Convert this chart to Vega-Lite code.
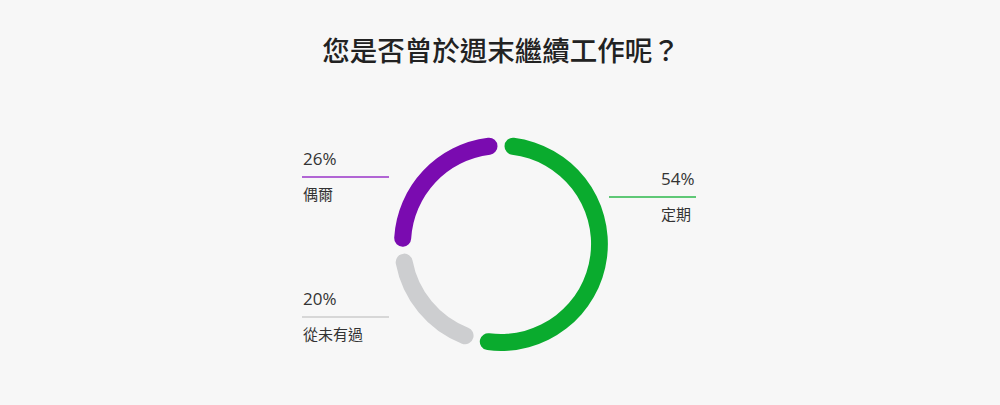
{
  "$schema": "https://vega.github.io/schema/vega-lite/v6.json",
  "width": 998,
  "height": 322,
  "autosize": "none",
  "padding": {"top": 83, "left": 2, "right": 0, "bottom": 0},
  "background": "#f7f7f7",
  "title": {
    "text": "您是否曾於週末繼續工作呢？",
    "font": "Noto Sans CJK TC",
    "fontSize": 27.5,
    "fontWeight": 500,
    "color": "#222222",
    "offset": 17
  },
  "data": {
    "values": [
      {"類別": "定期", "比例": 0.54, "序": 1},
      {"類別": "從未有過", "比例": 0.20, "序": 2},
      {"類別": "偶爾", "比例": 0.26, "序": 3}
    ]
  },
  "layer": [
    {
      "mark": {"type": "arc", "outerRadius": 107, "innerRadius": 90, "cornerRadius": 8.5, "padAngle": 0.05},
      "encoding": {
        "theta": {"field": "比例", "type": "quantitative", "stack": true},
        "order": {"field": "序", "type": "quantitative"},
        "color": {
          "field": "類別",
          "type": "nominal",
          "scale": {"domain": ["定期", "從未有過", "偶爾"], "range": ["#0aab2e", "#cdced0", "#7a0bb0"]},
          "legend": null
        }
      }
    },
    {
      "mark": {"type": "tick", "orient": "horizontal", "size": 87, "thickness": 1.3, "opacity": 1},
      "encoding": {
        "x": {"field": "比例", "type": "quantitative", "axis": null,
              "scale": {"domain": [0.2, 0.26, 0.54], "range": [343.5, 343.5, 650.5], "zero": false, "nice": false}},
        "y": {"field": "比例", "type": "quantitative", "axis": null,
              "scale": {"domain": [0.2, 0.26, 0.54], "range": [234, 94, 114], "zero": false, "nice": false}},
        "color": {
          "field": "類別",
          "type": "nominal",
          "scale": {"domain": ["定期", "從未有過", "偶爾"], "range": ["#2cb84b", "#cccccc", "#9a35c9"]},
          "legend": null
        }
      }
    },
    {
      "mark": {"type": "text", "font": "Open Sans", "fontSize": 17, "color": "#333333", "align": "left", "baseline": "middle", "dy": -17},
      "encoding": {
        "x": {"field": "比例", "type": "quantitative", "axis": null,
              "scale": {"domain": [0.2, 0.26, 0.54], "range": [301, 301, 659], "zero": false, "nice": false}},
        "y": {"field": "比例", "type": "quantitative", "axis": null,
              "scale": {"domain": [0.2, 0.26, 0.54], "range": [234, 94, 114], "zero": false, "nice": false}},
        "text": {"field": "比例", "type": "quantitative", "format": ".0%"}
      }
    },
    {
      "mark": {"type": "text", "font": "Noto Sans CJK TC", "fontSize": 15, "color": "#333333", "align": "left", "baseline": "middle", "dy": 17.5},
      "encoding": {
        "x": {"field": "比例", "type": "quantitative", "axis": null,
              "scale": {"domain": [0.2, 0.26, 0.54], "range": [301, 301, 659], "zero": false, "nice": false}},
        "y": {"field": "比例", "type": "quantitative", "axis": null,
              "scale": {"domain": [0.2, 0.26, 0.54], "range": [234, 94, 114], "zero": false, "nice": false}},
        "text": {"field": "類別", "type": "nominal"}
      }
    }
  ],
  "resolve": {"scale": {"x": "independent", "color": "independent"}},
  "config": {"view": {"stroke": null}}
}
